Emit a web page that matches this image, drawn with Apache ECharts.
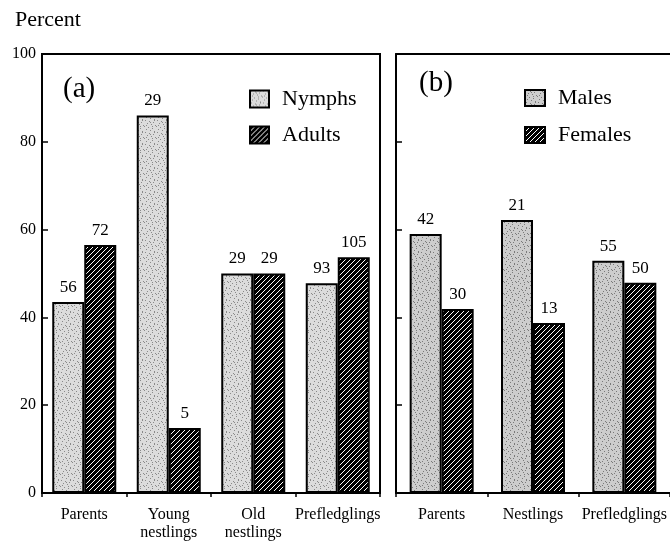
<!DOCTYPE html>
<html>
<head>
  <meta charset="utf-8">
  <title>Percent by stage</title>
  <script src="https://cdn.jsdelivr.net/npm/echarts@6/dist/echarts.min.js"></script>
  <style>
    html, body { margin: 0; padding: 0; background: #fff; }
  </style>
</head>
<body>
  <div id="main" style="width: 670px;height:546px;"></div>
  <script type="text/javascript">
    // panel (a): nymphs vs adults
    var aCats = ['Parents', 'Young\nnestlings', 'Old\nnestlings', 'Prefledglings'];
    var aNymphs = [43.5, 86, 50, 47.8];
    var aAdults = [56.5, 14.8, 50, 53.7];
    var aNymphsN = [56, 29, 29, 93];
    var aAdultsN = [72, 5, 29, 105];

    // panel (b): males vs females
    var bCats = ['Parents', 'Nestlings', 'Prefledglings'];
    var bMales = [59, 62.2, 52.9];
    var bFemales = [41.9, 38.7, 47.9];
    var bMalesN = [42, 21, 55];
    var bFemalesN = [30, 13, 50];

    var yTicks = [0, 20, 40, 60, 80, 100];

    var serif = "'Liberation Serif', 'DejaVu Serif', serif";

    // stippled gray tile (texture only, fixed pattern)
    function stipple(base, dark) {
      var c = document.createElement('canvas');
      c.width = 12; c.height = 12;
      var ctx = c.getContext('2d');
      ctx.fillStyle = base;
      ctx.fillRect(0, 0, 12, 12);
      ctx.fillStyle = dark;
      var pts = [[1,0],[5,1],[9,2],[3,3],[7,4],[11,5],[0,6],[4,7],[8,8],[2,9],[6,10],[10,11],[10,0],[2,5],[6,2],[8,6]];
      pts.forEach(function (p) { ctx.fillRect(p[0], p[1], 1, 1); });
      return { image: c, repeat: 'repeat' };
    }

    // black with white diagonal stripes ///
    function hatch() {
      var s = 5;
      var c = document.createElement('canvas');
      c.width = s; c.height = s;
      var ctx = c.getContext('2d');
      ctx.fillStyle = '#000';
      ctx.fillRect(0, 0, s, s);
      ctx.strokeStyle = '#fff';
      ctx.lineWidth = 1;
      ctx.beginPath();
      ctx.moveTo(-1, s + 1); ctx.lineTo(s + 1, -1);
      ctx.moveTo(-1, 1); ctx.lineTo(1, -1);
      ctx.moveTo(s - 1, s + 1); ctx.lineTo(s + 1, s - 1);
      ctx.stroke();
      return { image: c, repeat: 'repeat' };
    }

    var nymphFill = stipple('#dcdcdc', '#8a8a8a');
    var maleFill = stipple('#cdcdcd', '#7a7a7a');
    var hatchFill = hatch();

    var myChart = echarts.init(document.getElementById('main'), null, { renderer: 'canvas' });

    function labelOf(arr) {
      return {
        show: true,
        position: 'top',
        distance: 6,
        color: '#000',
        fontFamily: serif,
        fontSize: 17,
        formatter: function (p) { return arr[p.dataIndex]; }
      };
    }

    function barSeries(name, data, fill, xi, n) {
      return {
        name: name,
        type: 'bar',
        xAxisIndex: xi,
        yAxisIndex: xi,
        data: data,
        barWidth: 32,
        barGap: '0%',
        itemStyle: { color: fill, borderColor: '#000', borderWidth: 2 },
        label: labelOf(n),
        emphasis: { disabled: true }
      };
    }

    var axisLine = { show: true, lineStyle: { color: '#000', width: 2 } };
    var catLabel = { color: '#000', fontFamily: serif, fontSize: 16, margin: 13, lineHeight: 18, interval: 0 };

    var option = {
      animation: false,
      title: [
        { text: 'Percent', left: 10, top: 4, textStyle: { fontFamily: serif, fontSize: 22, fontWeight: 'normal', color: '#000' } },
        { text: '(a)', left: 58, top: 70, textStyle: { fontFamily: serif, fontSize: 29, fontWeight: 'normal', color: '#000' } },
        { text: '(b)', left: 414, top: 64, textStyle: { fontFamily: serif, fontSize: 29, fontWeight: 'normal', color: '#000' } }
      ],
      legend: [
        {
          data: ['Nymphs', 'Adults'], orient: 'vertical', left: 244, top: 83, icon: 'rect',
          itemWidth: 19, itemHeight: 17, itemGap: 14, selectedMode: false,
          textStyle: { fontFamily: serif, fontSize: 22, color: '#000', padding: [0, 0, 0, 8] }
        },
        {
          data: ['Males', 'Females'], orient: 'vertical', left: 519, top: 82, icon: 'rect',
          itemWidth: 20, itemHeight: 16, itemGap: 15, selectedMode: false,
          textStyle: { fontFamily: serif, fontSize: 22, color: '#000', padding: [0, 0, 0, 8] }
        }
      ],
      grid: [
        { left: 42, top: 54, width: 338, height: 439, show: true, borderColor: '#000', borderWidth: 2, backgroundColor: 'transparent' },
        { left: 396, top: 54, width: 274, height: 439 }
      ],
      xAxis: [
        {
          gridIndex: 0, type: 'category', data: aCats,
          axisLine: axisLine,
          axisTick: { show: true, inside: false, length: 4, lineStyle: { color: '#000', width: 1.5 } },
          axisLabel: catLabel
        },
        {
          gridIndex: 1, type: 'category', data: bCats,
          axisLine: axisLine,
          axisTick: { show: true, inside: false, length: 4, lineStyle: { color: '#000', width: 1.5 } },
          axisLabel: catLabel
        },
        {
          gridIndex: 1, type: 'category', data: bCats, position: 'top',
          axisLine: axisLine, axisTick: { show: false }, axisLabel: { show: false }
        }
      ],
      yAxis: [
        {
          gridIndex: 0, type: 'value', min: yTicks[0], max: yTicks[yTicks.length - 1], interval: 20,
          axisLine: axisLine,
          axisTick: { show: true, inside: true, length: 6, lineStyle: { color: '#000', width: 1.5 } },
          axisLabel: { color: '#000', fontFamily: serif, fontSize: 16, margin: 6 },
          splitLine: { show: false }
        },
        {
          gridIndex: 1, type: 'value', min: yTicks[0], max: yTicks[yTicks.length - 1], interval: 20,
          axisLine: axisLine,
          axisTick: { show: true, inside: true, length: 6, lineStyle: { color: '#000', width: 1.5 } },
          axisLabel: { show: false },
          splitLine: { show: false }
        }
      ],
      series: [
        barSeries('Nymphs', aNymphs, nymphFill, 0, aNymphsN),
        barSeries('Adults', aAdults, hatchFill, 0, aAdultsN),
        barSeries('Males', bMales, maleFill, 1, bMalesN),
        barSeries('Females', bFemales, hatchFill, 1, bFemalesN)
      ]
    };

    myChart.setOption(option);
  </script>
</body>
</html>
